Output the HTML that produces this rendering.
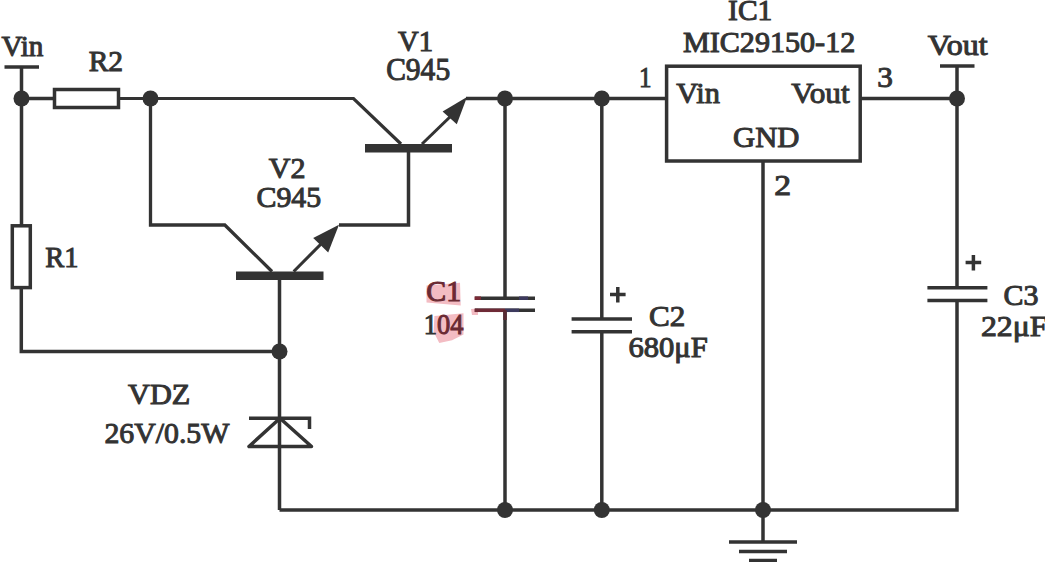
<!DOCTYPE html>
<html><head><meta charset="utf-8"><style>html,body{margin:0;padding:0;background:#fff;overflow:hidden}svg{display:block}</style></head>
<body><svg width="1045" height="562" viewBox="0 0 1045 562">
<rect width="1045" height="562" fill="#fff"/>
<g fill="#f3bcc3" stroke="none">
<polygon points="426.5,285.5 460,282.7 460.7,305.4 426.5,302.6"/>
<polygon points="434.4,316 463.5,313.3 463.5,334.6 452.1,340.3 439.3,343.1 433.6,331.7"/>
<polygon points="471,309 478,308.5 478,315 472,315"/>
</g>
<g fill="none" stroke="#333" stroke-width="3.5" stroke-linecap="butt" stroke-linejoin="miter">
<!-- Vin terminal -->
<line x1="4.5" y1="67" x2="39" y2="67"/>
<polyline points="21.5,67 21.5,225"/>
<rect x="12.3" y="225.8" width="18" height="61.8"/>
<polyline points="21.3,289 21.3,351.5 279.5,351.5"/>
<!-- top wire -->
<line x1="21.5" y1="98.5" x2="54" y2="98.5"/>
<rect x="54.5" y="89.5" width="64" height="18"/>
<polyline points="119,98.5 353.5,98.5 401,144" stroke-width="3.2"/>
<line x1="422" y1="144" x2="453" y2="114" stroke-width="3.1"/>
<line x1="466" y1="98.5" x2="666.5" y2="98.5"/>
<!-- V1 base down -->
<polyline points="408.5,152 408.5,225 339,225"/>
<!-- left branch -->
<polyline points="150.5,98.5 150.5,225 224.8,225 272,271.5" stroke-width="3.3"/>
<line x1="293.7" y1="271.5" x2="324" y2="241" stroke-width="3.1"/>
<!-- V2 base -->
<line x1="279.5" y1="280" x2="279.5" y2="510"/>
<!-- zener -->
<polyline points="249,418.2 309.5,418.2 309.5,429"/>
<polygon points="280,418.2 249,446.5 311.5,446.5" stroke-linejoin="round"/>
<!-- bottom wire -->
<polyline points="279.5,510 957,510 957,300.6"/>
<!-- C1 -->
<line x1="505" y1="98.5" x2="505" y2="298"/>
<line x1="505" y1="310" x2="505" y2="510"/>
<line x1="475" y1="298.2" x2="535" y2="298.2"/>
<line x1="475" y1="310.3" x2="535" y2="310.3"/>
<!-- C2 -->
<line x1="601.8" y1="98.5" x2="601.8" y2="319"/>
<line x1="601.8" y1="331.8" x2="601.8" y2="510"/>
<line x1="571.6" y1="319" x2="632" y2="319"/>
<line x1="571.6" y1="331.8" x2="632" y2="331.8"/>
<!-- IC -->
<rect x="666.6" y="66.2" width="193.6" height="94.8"/>
<line x1="763" y1="160" x2="763" y2="542"/>
<line x1="729" y1="542" x2="797" y2="542"/>
<line x1="739" y1="551.5" x2="787" y2="551.5"/>
<line x1="749" y1="560.5" x2="777" y2="560.5"/>
<!-- right -->
<line x1="860" y1="98.5" x2="957" y2="98.5"/>
<line x1="940" y1="66" x2="974.5" y2="66"/>
<line x1="957" y1="66" x2="957" y2="287.8"/>
<line x1="927.4" y1="287.8" x2="987.4" y2="287.8"/>
<line x1="927.4" y1="300.6" x2="987.4" y2="300.6"/>
<!-- plus signs -->
<path d="M610 294.6h15.6M617.8 287v15.4"/>
<path d="M965.6 262.5h15.6M973.4 255v15.4"/>
</g>
<g fill="none" stroke-width="3.5">
<line x1="474.5" y1="298.2" x2="481" y2="298.2" stroke="#7a2a36"/>
<line x1="519" y1="298.2" x2="528" y2="298.2" stroke="#3d3a5e"/>
<line x1="474.5" y1="310.3" x2="505" y2="310.3" stroke="#6e2a36"/>
<line x1="505" y1="310.3" x2="519" y2="310.3" stroke="#3d3a5e"/>
<line x1="505" y1="310" x2="505" y2="320" stroke="#5a2a33"/>
</g>
<g fill="#333" stroke="none">
<rect x="365" y="144" width="87" height="8.5"/>
<rect x="236" y="271.5" width="87.5" height="8.5"/>
<polygon points="467,97 442.6,111.4 456.8,124.2"/>
<polygon points="339,224.8 313.2,238 328.2,252.5"/>
<circle cx="21.5" cy="98.5" r="8"/>
<circle cx="150.5" cy="98.5" r="8"/>
<circle cx="505" cy="98.5" r="8"/>
<circle cx="601.8" cy="98.5" r="8"/>
<circle cx="957" cy="98.5" r="8"/>
<circle cx="279.5" cy="351.5" r="8"/>
<circle cx="505" cy="510" r="8"/>
<circle cx="601.8" cy="510" r="8"/>
<circle cx="763" cy="510" r="8"/>
</g>
<g font-family="Liberation Serif" fill="#333" stroke="#333" stroke-width="1.0">
<text x="1.44" y="56.04" font-size="28.50" textLength="42.01" lengthAdjust="spacingAndGlyphs">Vin</text>
<text x="88.65" y="70.96" font-size="29.43" textLength="34.49" lengthAdjust="spacingAndGlyphs">R2</text>
<text x="398.14" y="51.14" font-size="28.50" textLength="34.98" lengthAdjust="spacingAndGlyphs">V1</text>
<text x="386.16" y="80.34" font-size="30.57" textLength="63.99" lengthAdjust="spacingAndGlyphs">C945</text>
<text x="268.75" y="178.18" font-size="28.86" textLength="36.72" lengthAdjust="spacingAndGlyphs">V2</text>
<text x="256.45" y="207.06" font-size="29.71" textLength="64.81" lengthAdjust="spacingAndGlyphs">C945</text>
<text x="45.36" y="266.66" font-size="29.43" textLength="33.24" lengthAdjust="spacingAndGlyphs">R1</text>
<text x="128.05" y="404.20" font-size="28.50" textLength="62.21" lengthAdjust="spacingAndGlyphs">VDZ</text>
<text x="104.46" y="442.55" font-size="30.07" textLength="124.93" lengthAdjust="spacingAndGlyphs">26V/0.5W</text>
<text x="728.11" y="19.69" font-size="28.57" textLength="44.22" lengthAdjust="spacingAndGlyphs">IC1</text>
<text x="682.95" y="51.77" font-size="28.50" textLength="172.33" lengthAdjust="spacingAndGlyphs">MIC29150-12</text>
<text x="639.12" y="87.05" font-size="30.14" textLength="12.52" lengthAdjust="spacingAndGlyphs">1</text>
<text x="676.15" y="103.25" font-size="30.00" textLength="43.80" lengthAdjust="spacingAndGlyphs">Vin</text>
<text x="791.16" y="102.86" font-size="29.78" textLength="58.47" lengthAdjust="spacingAndGlyphs">Vout</text>
<text x="733.03" y="147.27" font-size="29.14" textLength="66.43" lengthAdjust="spacingAndGlyphs">GND</text>
<text x="877.16" y="87.36" font-size="29.43" textLength="15.62" lengthAdjust="spacingAndGlyphs">3</text>
<text x="927.87" y="55.28" font-size="28.92" textLength="59.85" lengthAdjust="spacingAndGlyphs">Vout</text>
<text x="774.16" y="195.28" font-size="29.00" textLength="16.85" lengthAdjust="spacingAndGlyphs">2</text>
<text x="649.12" y="326.35" font-size="29.86" textLength="36.29" lengthAdjust="spacingAndGlyphs">C2</text>
<text x="628.54" y="357.48" font-size="28.50" textLength="79.20" lengthAdjust="spacingAndGlyphs">680μF</text>
<text x="1003.55" y="304.99" font-size="28.57" textLength="34.91" lengthAdjust="spacingAndGlyphs">C3</text>
<text x="980.90" y="336.26" font-size="29.57" textLength="66.66" lengthAdjust="spacingAndGlyphs">22μF</text>
<text x="426.35" y="301.34" font-size="28.50" textLength="34.80" lengthAdjust="spacingAndGlyphs" fill="#6a2a33" stroke="#6a2a33">C1</text>
<text x="423.72" y="333.68" font-size="28.50" textLength="39.68" lengthAdjust="spacingAndGlyphs" fill="#6a2a33" stroke="#6a2a33"><tspan fill="#333" stroke="#333">1</tspan>04</text>


</g>
</svg></body></html>
